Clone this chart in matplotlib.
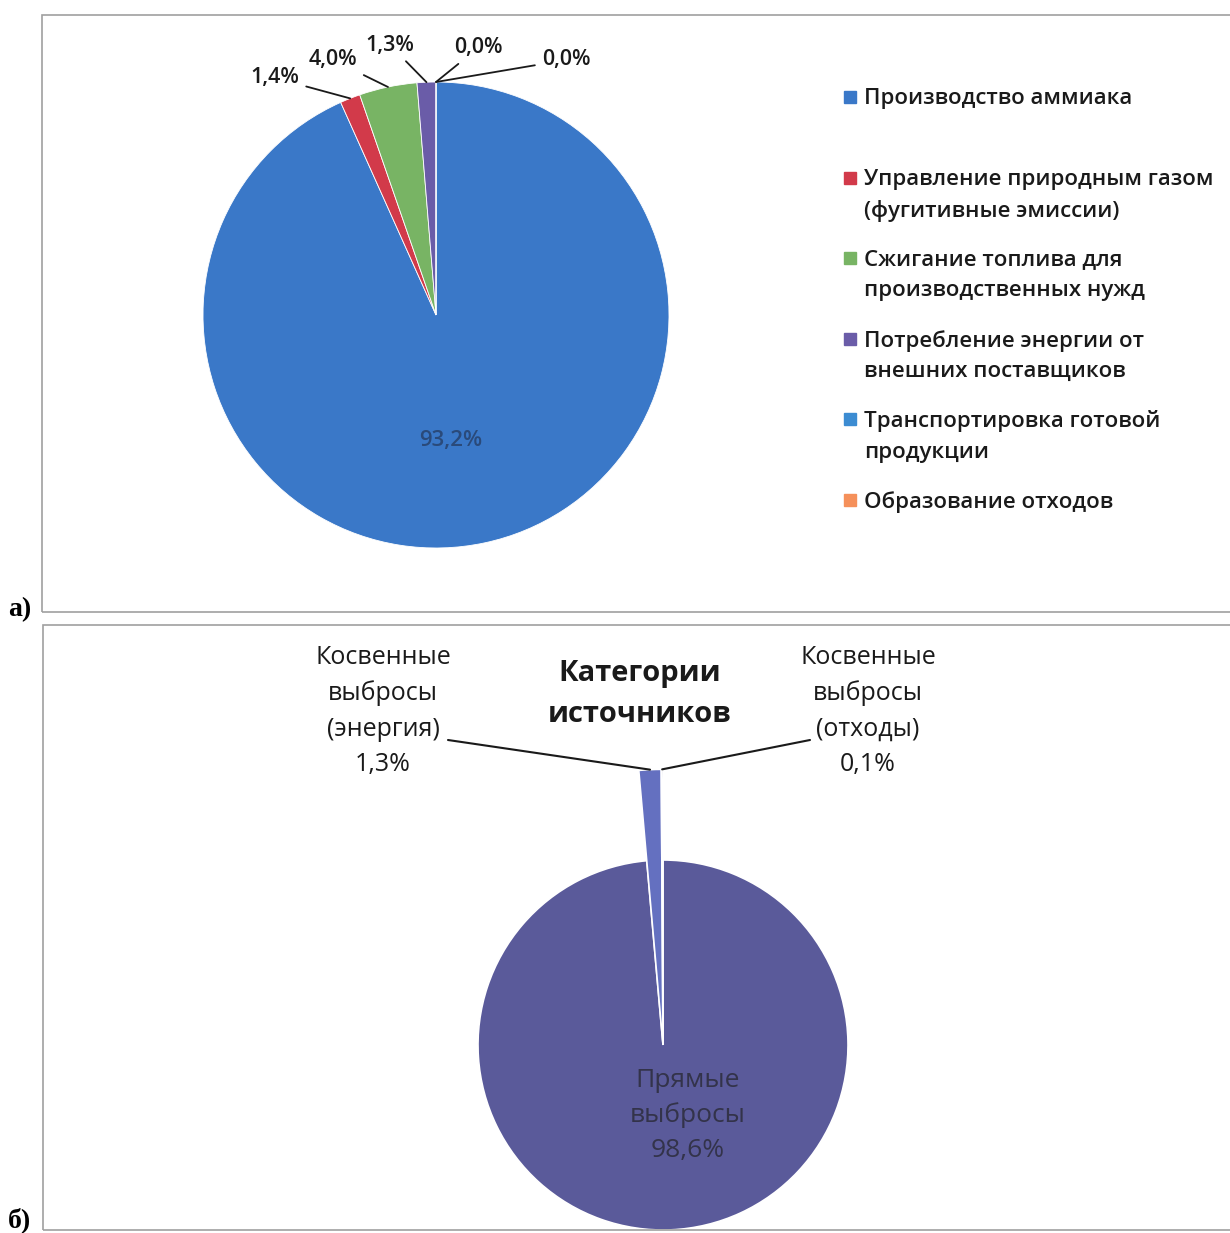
import matplotlib.pyplot as plt
from matplotlib.patches import Rectangle
import numpy as np

plt.rcParams['font.family'] = ['Open Sans', 'DejaVu Sans']

# (а) структура выбросов по источникам
sources = ['Производство аммиака',
           'Управление природным газом\n(фугитивные эмиссии)',
           'Сжигание топлива для\nпроизводственных нужд',
           'Потребление энергии от\nвнешних поставщиков',
           'Транспортировка готовой\nпродукции',
           'Образование отходов']
shares_a = [93.2, 1.4, 4.0, 1.3, 0.0, 0.0]
colors_a = ['#3a78c8', '#d23a4a', '#78b464', '#6a5ca8', '#3c8cd2', '#f5905a']

# (б) категории источников
categories = ['Прямые\nвыбросы', 'Косвенные\nвыбросы\n(энергия)', 'Косвенные\nвыбросы\n(отходы)']
shares_b = [98.6, 1.3, 0.1]
colors_b = ['#5a5a9a', '#6470c0', '#4a4a8a']

W, H = 1230, 1233
fig = plt.figure(figsize=(W / 100, H / 100), dpi=100)


def fx(px):
    return px / W


def fy(py):
    return 1 - py / H


def pct(v):
    return f'{v:.1f}'.replace('.', ',') + '%'


# panel frames
for x0, y0, x1, y1 in [(42, 15, 1232, 612), (43, 625, 1232, 1230)]:
    fig.add_artist(Rectangle((fx(x0), fy(y1)), fx(x1 - x0), y1 / H - y0 / H,
                             transform=fig.transFigure, fill=False,
                             edgecolor='#a0a0a0', lw=1.2))
fig.text(fx(8), fy(610), 'а)', family='Liberation Serif', fontsize=20,
         fontweight='bold', va='center')
fig.text(fx(8), fy(1220), 'б)', family='Liberation Serif', fontsize=20,
         fontweight='bold', va='center')

# ---- pie (a)
cx, cy, R = 436, 315, 233
k = 1.25
ax1 = fig.add_axes([fx(cx - k * R), fy(cy + k * R), fx(2 * k * R), 2 * k * R / H])
wedges, _ = ax1.pie(shares_a, colors=colors_a, startangle=90, counterclock=False,
                    radius=1, wedgeprops=dict(linewidth=0.6, edgecolor='white'))
ax1.set_xlim(-k, k)
ax1.set_ylim(-k, k)
ax1.set_aspect('equal')
ax1.axis('off')

# value of the main slice inside it
w0 = wedges[0]
a0 = np.deg2rad((w0.theta1 + w0.theta2) / 2)
ax1.text(0.3 * np.cos(a0), 0.55 * np.sin(a0), pct(shares_a[0]), ha='center', va='center',
         fontsize=16, fontweight='semibold', color='#2a4a7a')

# outside labels of the small slices
label_pos = [None, (275, 78), (333, 60), (390, 45), (478, 48), (566, 60)]
for w, v, pos in zip(wedges, shares_a, label_pos):
    if pos is None:
        continue
    ang = np.deg2rad((w.theta1 + w.theta2) / 2)
    xy = (np.cos(ang), np.sin(ang))
    tx = (pos[0] - cx) / R
    ty = (cy - pos[1]) / R
    ax1.annotate(pct(v), xy=xy, xytext=(tx, ty), ha='center', va='center',
                 fontsize=15.5, fontweight='semibold', color='#1a1a1a',
                 annotation_clip=False,
                 arrowprops=dict(arrowstyle='-', color='#1a1a1a', lw=1.3,
                                 shrinkA=3, shrinkB=0))

# legend, y of the first line of every entry
leg_y = [97, 178, 258, 339, 419, 500]
for name, c, yy in zip(sources, colors_a, leg_y):
    fig.add_artist(Rectangle((fx(844), fy(yy + 6)), fx(12), 12 / H,
                             transform=fig.transFigure, color=c))
    fig.text(fx(864), fy(yy - 9), name, fontsize=16, fontweight='semibold',
             color='#1a1a1a', va='top', linespacing=1.6)

# ---- pie (b)
cx2, cy2, R2 = 663, 1045, 185
k2 = 1.6
ax2 = fig.add_axes([fx(cx2 - k2 * R2), fy(cy2 + k2 * R2), fx(2 * k2 * R2), 2 * k2 * R2 / H])
wedges2, _ = ax2.pie(shares_b, colors=colors_b, startangle=90, counterclock=False,
                     radius=1, wedgeprops=dict(linewidth=1.2, edgecolor='white'))
for w in wedges2[1:]:
    w.set_radius(1.49)
ax2.set_xlim(-k2, k2)
ax2.set_ylim(-k2, k2)
ax2.set_aspect('equal')
ax2.axis('off')

ax2.text(0.135, -0.38, categories[0] + '\n' + pct(shares_b[0]), ha='center', va='center',
         fontsize=19, color='#33334a', linespacing=1.5)

fig.text(fx(640), fy(694), 'Категории\nисточников', ha='center', va='center',
         fontsize=21, fontweight='bold', color='#1a1a1a', linespacing=1.55)

side_pos = [None, (383, 711, 448), (868, 711, 810)]
for w, v, name, pos in zip(wedges2, shares_b, categories, side_pos):
    if pos is None:
        continue
    fig.text(fx(pos[0]), fy(pos[1]), name + '\n' + pct(v), ha='center', va='center',
             fontsize=18, color='#1a1a1a', linespacing=1.55)
    ang = np.deg2rad((w.theta1 + w.theta2) / 2)
    tip = (1.49 * np.cos(ang), 1.49 * np.sin(ang))
    ax2.annotate('', xy=tip, xytext=(fx(pos[2]), fy(740)), textcoords='figure fraction',
                 annotation_clip=False,
                 arrowprops=dict(arrowstyle='-', color='#1a1a1a', lw=1.5,
                                 shrinkA=0, shrinkB=0))

fig.savefig('out.png', dpi=100)
